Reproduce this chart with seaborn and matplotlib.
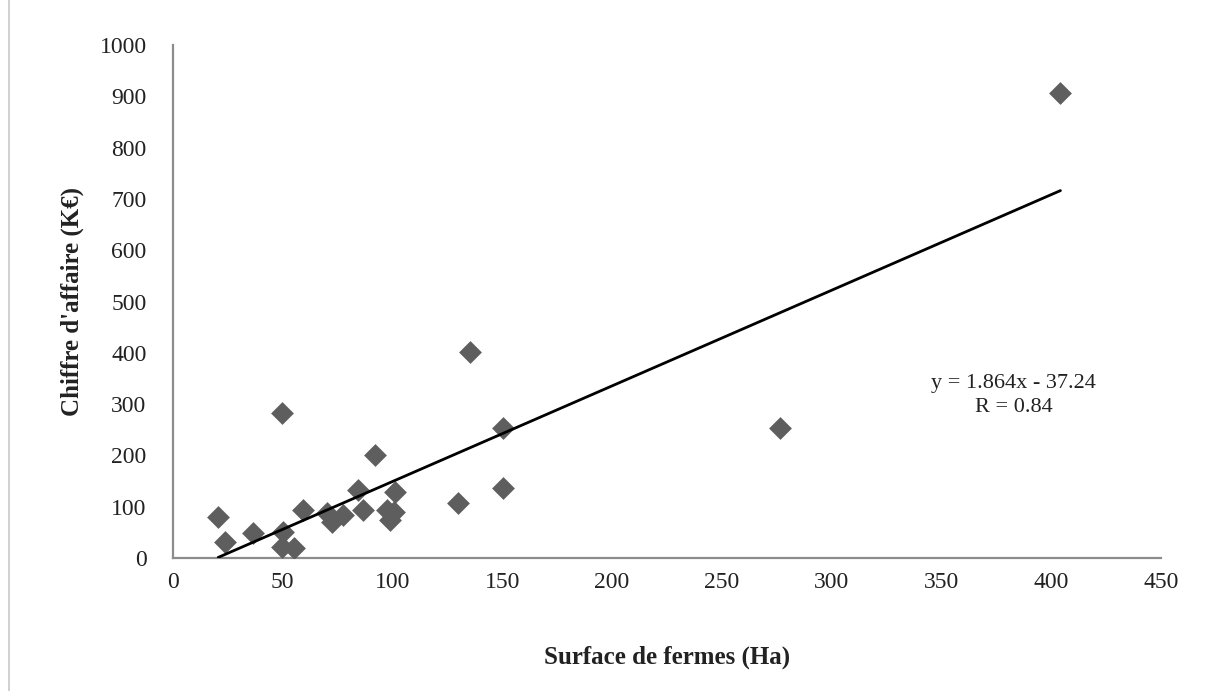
import matplotlib
matplotlib.use("Agg")
import matplotlib.pyplot as plt
import seaborn as sns
import numpy as np
import pandas as pd
from matplotlib.lines import Line2D

# Data
surface_ha = [20.6, 23.7, 36.6, 49.5, 50.2, 49.5, 55.0, 59.3, 70.0, 72.3, 77.6,
              84.4, 86.7, 92.0, 97.3, 98.8, 100.5, 101.1, 129.9, 135.2, 150.1,
              150.4, 276.4, 404.2]
chiffre_keur = [80.5, 31.8, 48, 282, 51, 22, 19, 93.6, 87, 71, 84,
                132.5, 93.6, 200.8, 93.6, 74, 90, 129, 106.6, 402, 252.8,
                136, 252.8, 906]
fit_slope = 1.864
fit_intercept = -37.24
fit_r = 0.84
x_ticks = [0, 50, 100, 150, 200, 250, 300, 350, 400, 450]
y_ticks = [0, 100, 200, 300, 400, 500, 600, 700, 800, 900, 1000]

df = pd.DataFrame({"surface": surface_ha, "ca": chiffre_keur})

sns.set_theme(style="white")
plt.rcParams['font.family'] = ['Liberation Serif', 'DejaVu Serif']

fig = plt.figure(figsize=(12.08, 6.91), dpi=100)
ax = fig.add_axes([173/1208, 1-558/691, (1161-173)/1208, (558-45)/691])

sns.scatterplot(data=df, x="surface", y="ca", marker="D", s=135,
                color="#5e5e5e", edgecolor="#5e5e5e", linewidth=0, ax=ax, zorder=3)

xl = np.array([min(surface_ha), max(surface_ha)])
sns.lineplot(x=xl, y=fit_slope * xl + fit_intercept, color="black", linewidth=2, ax=ax, zorder=4)

ax.set_xlim(0, 450)
ax.set_ylim(0, 1000)
ax.set_xticks(x_ticks)
ax.set_yticks(y_ticks)
ax.tick_params(axis="both", length=0, labelsize=17, colors="#222222")
ax.tick_params(axis="y", pad=19)
ax.tick_params(axis="x", pad=10)

for s in ["top", "right"]:
    ax.spines[s].set_visible(False)
for s in ["left", "bottom"]:
    ax.spines[s].set_color("#8c8c8c")
    ax.spines[s].set_linewidth(1.6)

ax.set_xlabel("Surface de fermes (Ha)", fontsize=18, fontweight="bold", color="#222222", labelpad=38)
ax.set_ylabel("Chiffre d'affaire (K€)", fontsize=18, fontweight="bold", color="#222222", labelpad=11)

ax.text(383, 317, f"y = {fit_slope}x - {abs(fit_intercept)}\nR = {fit_r}",
        ha="center", va="center", fontsize=16, color="#222222", linespacing=1.4)

fig.add_artist(Line2D([9/1208, 9/1208], [0, 1], transform=fig.transFigure,
                      color="#c8c8c8", linewidth=1.2))

fig.savefig("out.png", dpi=100)
